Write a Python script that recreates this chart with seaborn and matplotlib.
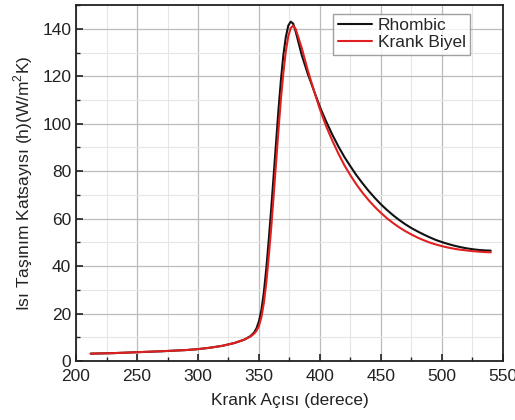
import numpy as np
import pandas as pd
import matplotlib
matplotlib.use('Agg')
import matplotlib.pyplot as plt
from matplotlib.ticker import MultipleLocator
import seaborn as sns

sns.set_style('ticks')
plt.rcParams['font.family'] = ['Liberation Sans', 'DejaVu Sans']
plt.rcParams['mathtext.fontset'] = 'custom'
plt.rcParams['mathtext.rm'] = 'Liberation Sans'

# values
rhombic_x = [212, 230, 250, 270, 290, 300, 310, 320, 330, 338, 343, 346, 348, 350, 352,
             354, 356, 358, 360, 362, 364, 366, 368, 370, 372, 374, 376, 378, 380,
             385, 390, 395, 400, 405, 410, 415, 420, 425, 430, 435, 440, 445, 450,
             455, 460, 465, 470, 475, 480, 485, 490, 495, 500, 505, 510, 515, 520,
             525, 530, 535, 540]
rhombic_y = [3.1, 3.3, 3.7, 4.1, 4.6, 5.0, 5.6, 6.4, 7.6, 9.0, 10.5, 12.0, 13.8, 16.8, 21.5,
             29, 39, 51, 64, 78, 92, 106, 118.5, 129, 136.5, 141.3, 143, 142.2, 139,
             129, 121, 114, 107, 101, 95.5, 90.5, 86, 82, 78.2, 74.8, 71.6, 68.7, 66,
             63.6, 61.4, 59.4, 57.6, 56, 54.6, 53.3, 52.1, 51.0, 50.1, 49.3, 48.6, 48.0, 47.5,
             47.1, 46.8, 46.6, 46.5]

krank_x = [212, 230, 250, 270, 290, 300, 310, 320, 330, 338, 343, 346, 348, 350, 352,
           354, 356, 358, 360, 362, 364, 366, 368, 370, 372, 374, 376, 378, 380,
           385, 390, 395, 400, 405, 410, 415, 420, 425, 430, 435, 440, 445, 450,
           455, 460, 465, 470, 475, 480, 485, 490, 495, 500, 505, 510, 515, 520,
           525, 530, 535, 540]
krank_y = [3.1, 3.3, 3.7, 4.1, 4.6, 5.0, 5.6, 6.4, 7.6, 9.0, 10.3, 11.5, 12.8, 14.8, 18.5,
           24.5, 33, 44, 56, 69.5, 83.5, 97.5, 110.5, 121.5, 130.5, 136.8, 140.3, 141.3, 140,
           132, 122.5, 114, 106, 99, 93, 87.5, 82.5, 78.2, 74.3, 70.8, 67.7, 64.9, 62.4,
           60.1, 58.1, 56.3, 54.7, 53.3, 52.0, 50.9, 49.9, 49.1, 48.4, 47.8, 47.3, 46.9, 46.6,
           46.3, 46.1, 45.9, 45.8]

df = pd.concat([
    pd.DataFrame({'angle': rhombic_x, 'h': rhombic_y, 'series': 'Rhombic'}),
    pd.DataFrame({'angle': krank_x, 'h': krank_y, 'series': 'Krank Biyel'}),
])

fig = plt.figure(figsize=(5.15, 4.2), dpi=100)
ax = fig.add_axes([0.1476, 0.1405, 0.829, 0.8475])

sns.lineplot(data=df, x='angle', y='h', hue='series', estimator=None,
             palette={'Rhombic': '#111111', 'Krank Biyel': '#e02020'},
             linewidth=1.5, ax=ax)

ax.set_xlim(200, 550)
ax.set_ylim(0, 150)
ax.xaxis.set_major_locator(MultipleLocator(50))
ax.xaxis.set_minor_locator(MultipleLocator(25))
ax.yaxis.set_major_locator(MultipleLocator(20))
ax.yaxis.set_minor_locator(MultipleLocator(10))
ax.grid(which='major', color='#bcbcbc', linewidth=0.9)
ax.grid(which='minor', color='#e6e6e6', linewidth=0.8)
ax.set_axisbelow(True)
ax.tick_params(which='both', direction='in', labelsize=12.5, colors='#222222')
ax.tick_params(which='major', length=5, width=1.2)
ax.tick_params(which='minor', length=3, width=1.0)
ax.tick_params(axis='x', pad=6)
for s in ax.spines.values():
    s.set_linewidth(1.3)
    s.set_color('#222222')

ax.set_xlabel('Krank Açısı (derece)', fontsize=12.5, labelpad=6, color='#222222')
ax.set_ylabel('Isı Taşınım Katsayısı (h)(W/m$^2$K)', fontsize=12.5, labelpad=5,
              color='#222222')

leg = ax.legend(loc='upper right', bbox_to_anchor=(0.935, 0.99), fontsize=12.5,
                frameon=True, fancybox=False, edgecolor='#888888',
                handlelength=2.0, handletextpad=0.3, borderpad=0.25,
                labelspacing=0.1, borderaxespad=0.3)
leg.get_frame().set_linewidth(1.0)

fig.savefig('out.png', dpi=100)
